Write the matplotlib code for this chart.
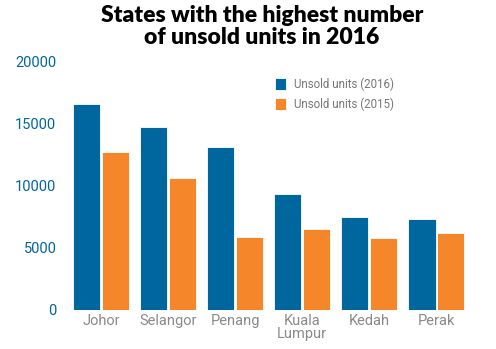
import matplotlib.pyplot as plt
import numpy as np

states = ["Johor", "Selangor", "Penang", "Kuala\nLumpur", "Kedah", "Perak"]
unsold_2016 = [16550, 14700, 13100, 9350, 7450, 7300]
unsold_2015 = [12700, 10600, 5900, 6500, 5800, 6200]
y_ticks = [0, 5000, 10000, 15000, 20000]

blue = "#00669e"
orange = "#f5872a"
font = ["Roboto", "DejaVu Sans"]

fig = plt.figure(figsize=(4.96, 3.49), dpi=100)
ax = fig.add_axes([0.136, 0.112, 0.811, 0.713])

x = np.arange(len(states))
w = 0.41
ax.bar(x - 0.215, unsold_2016, w, color=blue, edgecolor="white", linewidth=0.6,
       label="Unsold units (2016)")
ax.bar(x + 0.215, unsold_2015, w, color=orange, edgecolor="white", linewidth=0.6,
       label="Unsold units (2015)")

ax.set_xlim(-0.5, 5.5)
ax.set_ylim(0, 20000)
ax.set_yticks(y_ticks)
ax.set_xticks(x)
ax.set_xticklabels(states, family=font, fontsize=10.5, color="#8a8a8a", linespacing=0.9)
ax.set_yticklabels([str(t) for t in y_ticks], family=font, fontsize=10.5, color=blue)
ax.tick_params(length=0, pad=8)
ax.tick_params(axis="x", pad=3)
for s in ax.spines.values():
    s.set_visible(False)

leg = ax.legend(loc="upper left", bbox_to_anchor=(0.49, 0.975), frameon=False,
                prop={"family": font, "size": 8.3}, handlelength=0.95, handleheight=1.2,
                handletextpad=0.7, labelspacing=0.55)
for t in leg.get_texts():
    t.set_color("#777777")

fig.text(0.528, 0.985, "States with the highest number\nof unsold units in 2016",
         ha="center", va="top", fontsize=16.5, fontweight="heavy", family="Lato",
         linespacing=1.05)

fig.savefig("out.png", dpi=100)
